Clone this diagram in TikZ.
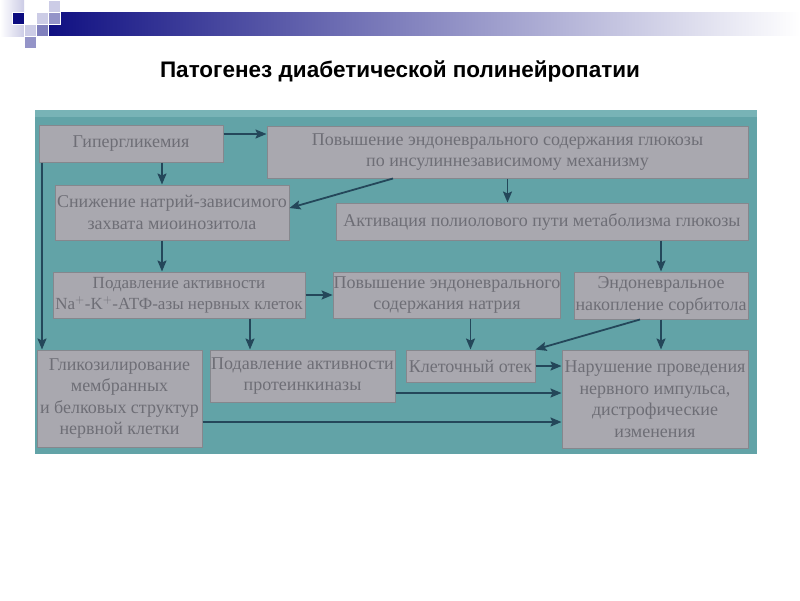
\documentclass[tikz,border=0pt]{standalone}
\usepackage{fontspec}
\setmainfont{Liberation Serif}
\newfontfamily\headfont{Liberation Sans}
\usepackage{xcolor}
\usetikzlibrary{arrows.meta,positioning,calc}
\definecolor{navy}{HTML}{0C0C80}
\definecolor{lilac}{HTML}{9494C8}
\definecolor{palelilac}{HTML}{CCCCE6}
\definecolor{teal}{HTML}{62A3A7}
\definecolor{tealtop}{HTML}{78B3B6}
\definecolor{boxgray}{HTML}{A9A8AF}
\definecolor{boxedge}{HTML}{85878D}
\definecolor{textgray}{HTML}{6E6E76}
\definecolor{arrowink}{HTML}{24475A}
\tikzset{
  stagebox/.style={
    rectangle, draw=boxedge, fill=boxgray, line width=1pt,
    minimum width=#1, text=textgray,
    font=\fontsize{18}{21.5}\selectfont, align=center,
    inner sep=0.5pt
  },
  stagebox/.default=100pt,
  flowarrow/.style={
    -{Stealth[length=11pt, width=9pt, inset=2pt]}, line width=1.8pt, color=#1
  },
  flowarrow/.default=arrowink,
  tile/.style={fill=#1, draw=white, line width=0.8pt},
  titlenode/.style={
    font=\headfont\bfseries\fontsize{22.5}{26}\selectfont, text=black
  },
}
\begin{document}
\begin{tikzpicture}[x=1pt, y=-1pt]
  \useasboundingbox (0,0) rectangle (800,600);
  \fill[white] (0,0) rectangle (800,600);
  \shade[left color=white, right color=palelilac] (0,0) rectangle (24,36);
  \shade[left color=navy, right color=white] (36,12) rectangle (800,35);
  \fill[tile=navy] (12,12) rectangle (24,24);
  \fill[tile=palelilac] (36,12) rectangle (48,24);
  \fill[tile=palelilac] (48,0) rectangle (60,12);
  \fill[tile=lilac] (48,12) rectangle (60,24);
  \fill[tile=palelilac] (24,24) rectangle (36,36);
  \fill[tile=lilac!85!navy] (36,24) rectangle (48,36);
  \fill[tile=lilac] (24,36) rectangle (36,48);
  \node[titlenode] (title) at (400,71) {Патогенез диабетической полинейропатии};
  \fill[teal] (35,110) rectangle (757,454);
  \fill[tealtop] (35,110) rectangle (757,117);
  \node[stagebox=184pt, minimum height=37pt] (hyper) at (131,143.5) {Гипергликемия};
  \node[stagebox=481pt, minimum height=52pt] (glucose) at (507.5,152) {Повышение эндоневрального содержания глюкозы\\по инсулиннезависимому механизму};
  \node[stagebox=234pt, minimum height=55pt] (myoino) at (172,212.5) {Снижение натрий-зависимого\\захвата миоинозитола};
  \node[stagebox=412pt, minimum height=37pt] (polyol) at (542,221.5) {Активация полиолового пути метаболизма глюкозы};
  \node[stagebox=252pt, minimum height=46pt, font=\fontsize{17}{21.5}\selectfont] (atpase) at (179,295) {Подавление активности\\Na$^+$-K$^+$-АТФ-азы нервных клеток};
  \node[stagebox=224pt, minimum height=46pt] (sodium) at (447,295) {Повышение эндоневрального\\содержания натрия};
  \node[stagebox=174pt, minimum height=47pt] (sorbitol) at (661,295.5) {Эндоневральное\\накопление сорбитола};
  \node[stagebox=165pt, minimum height=97pt] (glycos) at (119.5,398.5) {Гликозилирование\\мембранных\\и белковых структур\\нервной клетки};
  \node[stagebox=185pt, minimum height=52pt] (kinase) at (302.5,376) {Подавление активности\\протеинкиназы};
  \node[stagebox=129pt, minimum height=32pt] (edema) at (470.5,366) {Клеточный отек};
  \node[stagebox=186pt, minimum height=98pt] (impulse) at (655,399) {Нарушение проведения\\нервного импульса,\\дистрофические\\изменения};
  \draw[flowarrow] ([yshift=9.5pt]hyper.east) -- ([yshift=9.5pt]hyper.east -| glucose.west);
  \draw[flowarrow] ([xshift=31pt]hyper.south) -- ([xshift=31pt]hyper.south |- myoino.north);
  \draw[flowarrow] ([xshift=-89pt]hyper.south) -- ([xshift=-89pt]hyper.south |- glycos.north);
  \draw[flowarrow] ([xshift=-114.5pt]glucose.south) -- ([yshift=4.5pt]myoino.east);
  \draw[flowarrow] (glucose.south) -- (glucose.south |- polyol.north);
  \draw[flowarrow] ([xshift=-10pt]myoino.south) -- ([xshift=-10pt]myoino.south |- atpase.north);
  \draw[flowarrow] (atpase.east) -- (sodium.west);
  \draw[flowarrow] ([xshift=71pt]atpase.south) -- ([xshift=71pt]atpase.south |- kinase.north);
  \draw[flowarrow] (sorbitol.north |- polyol.south) -- (sorbitol.north);
  \draw[flowarrow] (edema.north |- sodium.south) -- (edema.north);
  \draw[flowarrow] ([xshift=-21pt]sorbitol.south) -- (edema.north east);
  \draw[flowarrow] (sorbitol.south) -- (sorbitol.south |- impulse.north);
  \draw[flowarrow] (edema.east) -- (edema.east -| impulse.west);
  \draw[flowarrow] ([yshift=-17pt]kinase.east) -- ([yshift=-17pt]kinase.east -| impulse.west);
  \draw[flowarrow] ([yshift=-23.5pt]glycos.east) -- ([yshift=-23.5pt]glycos.east -| impulse.west);
\end{tikzpicture}
\end{document}
